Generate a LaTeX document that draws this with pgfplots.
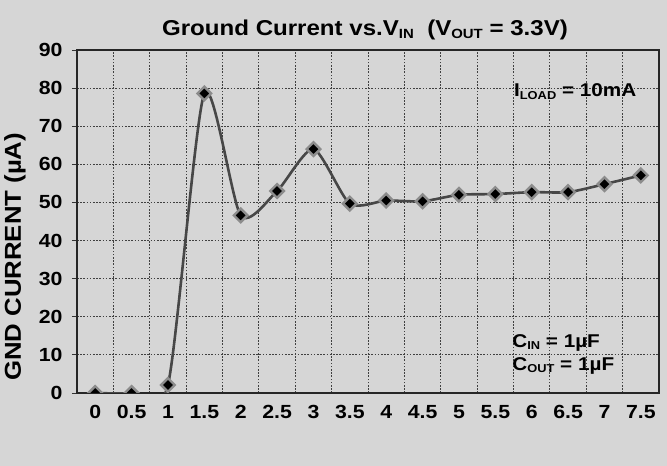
\documentclass[border=0pt]{standalone}
\usepackage{pgfplots}
\pgfplotsset{compat=1.18}
\usepackage{fontspec}
\setmainfont{Liberation Sans}[FakeStretch=1.12]
\usetikzlibrary{backgrounds}
\newcommand\sub[1]{\raisebox{-0.25ex}{\scalebox{0.62}{#1}}}
\definecolor{bg}{gray}{0.84}
\begin{document}
\begin{tikzpicture}
\begin{axis}[
  name=ax,
  scale only axis,
  width=582pt, height=343pt,
  xmin=-0.25, xmax=7.75,
  ymin=0, ymax=90,
  clip marker paths=true,
  xtick={0,0.5,1,1.5,2,2.5,3,3.5,4,4.5,5,5.5,6,6.5,7,7.5},
  xticklabels={0,0.5,1,1.5,2,2.5,3,3.5,4,4.5,5,5.5,6,6.5,7,7.5},
  minor xtick={0.25,0.75,1.25,1.75,2.25,2.75,3.25,3.75,4.25,4.75,5.25,5.75,6.25,6.75,7.25},
  ytick={0,10,20,30,40,50,60,70,80,90},
  xminorgrids, ymajorgrids,
  grid style={black!75, line width=0.8pt, dash pattern=on 1.6pt off 1.6pt},
  minor grid style={black!75, line width=0.8pt, dash pattern=on 1.6pt off 1.6pt},
  axis line style={black!85, line width=1.6pt},
  x tick style={draw=none},
  minor x tick style={black!80, line width=0.8pt},
  minor tick length=4pt,
  y tick style={black!80, line width=0.8pt},
  ytick pos=left,
  ytick align=outside,
  major tick length=5pt,
  /pgf/number format/assume math mode=true,
  yticklabel style={xshift=-6pt, font=\bfseries\fontsize{19}{19}\selectfont},
  xticklabel style={yshift=-9pt, font=\bfseries\fontsize{19}{19}\selectfont},
  ylabel={\bfseries GND CURRENT (\textmu A)},
  every axis y label/.style={at={(rel axis cs:-0.1065,0.397)}, rotate=90, anchor=center, font=\fontsize{23}{23}\selectfont},
  title={\bfseries Ground Current vs.V\sub{IN}\ \ (V\sub{OUT} = 3.3V)},
  every axis title/.style={at={(0.5,1)}, anchor=base, yshift=14pt, xshift=-3pt, font=\fontsize{21.5}{21.5}\selectfont},
]
\addplot[black!72, line width=2.6pt, smooth, tension=0.42,
  mark=square*, mark size=4.8pt,
  mark options={solid, rotate=45, fill=black, draw=black!45, line width=2.4pt}]
  coordinates {
  (0,0) (0.5,0) (1,2.1) (1.5,78.6) (2,46.6) (2.5,53.0) (3,64.0) (3.5,49.7)
  (4,50.5) (4.5,50.3) (5,52.0) (5.5,52.2) (6,52.7) (6.5,52.7) (7,54.8) (7.5,57.1)
  };
\node[anchor=base west, font=\bfseries\fontsize{18.5}{18.5}\selectfont] at (rel axis cs:0.745,0.863) {I\sub{LOAD} = 10mA};
\node[anchor=base west, font=\bfseries\fontsize{18.5}{18.5}\selectfont] at (rel axis cs:0.742,0.134) {C\sub{IN} = 1\textmu F};
\node[anchor=base west, font=\bfseries\fontsize{18.5}{18.5}\selectfont] at (rel axis cs:0.742,0.067) {C\sub{OUT} = 1\textmu F};
\end{axis}
\begin{scope}[on background layer]
\fill[bg] ([xshift=-77pt,yshift=-73pt]ax.south west) rectangle ([xshift=8pt,yshift=50pt]ax.north east);
\end{scope}
\end{tikzpicture}
\end{document}
